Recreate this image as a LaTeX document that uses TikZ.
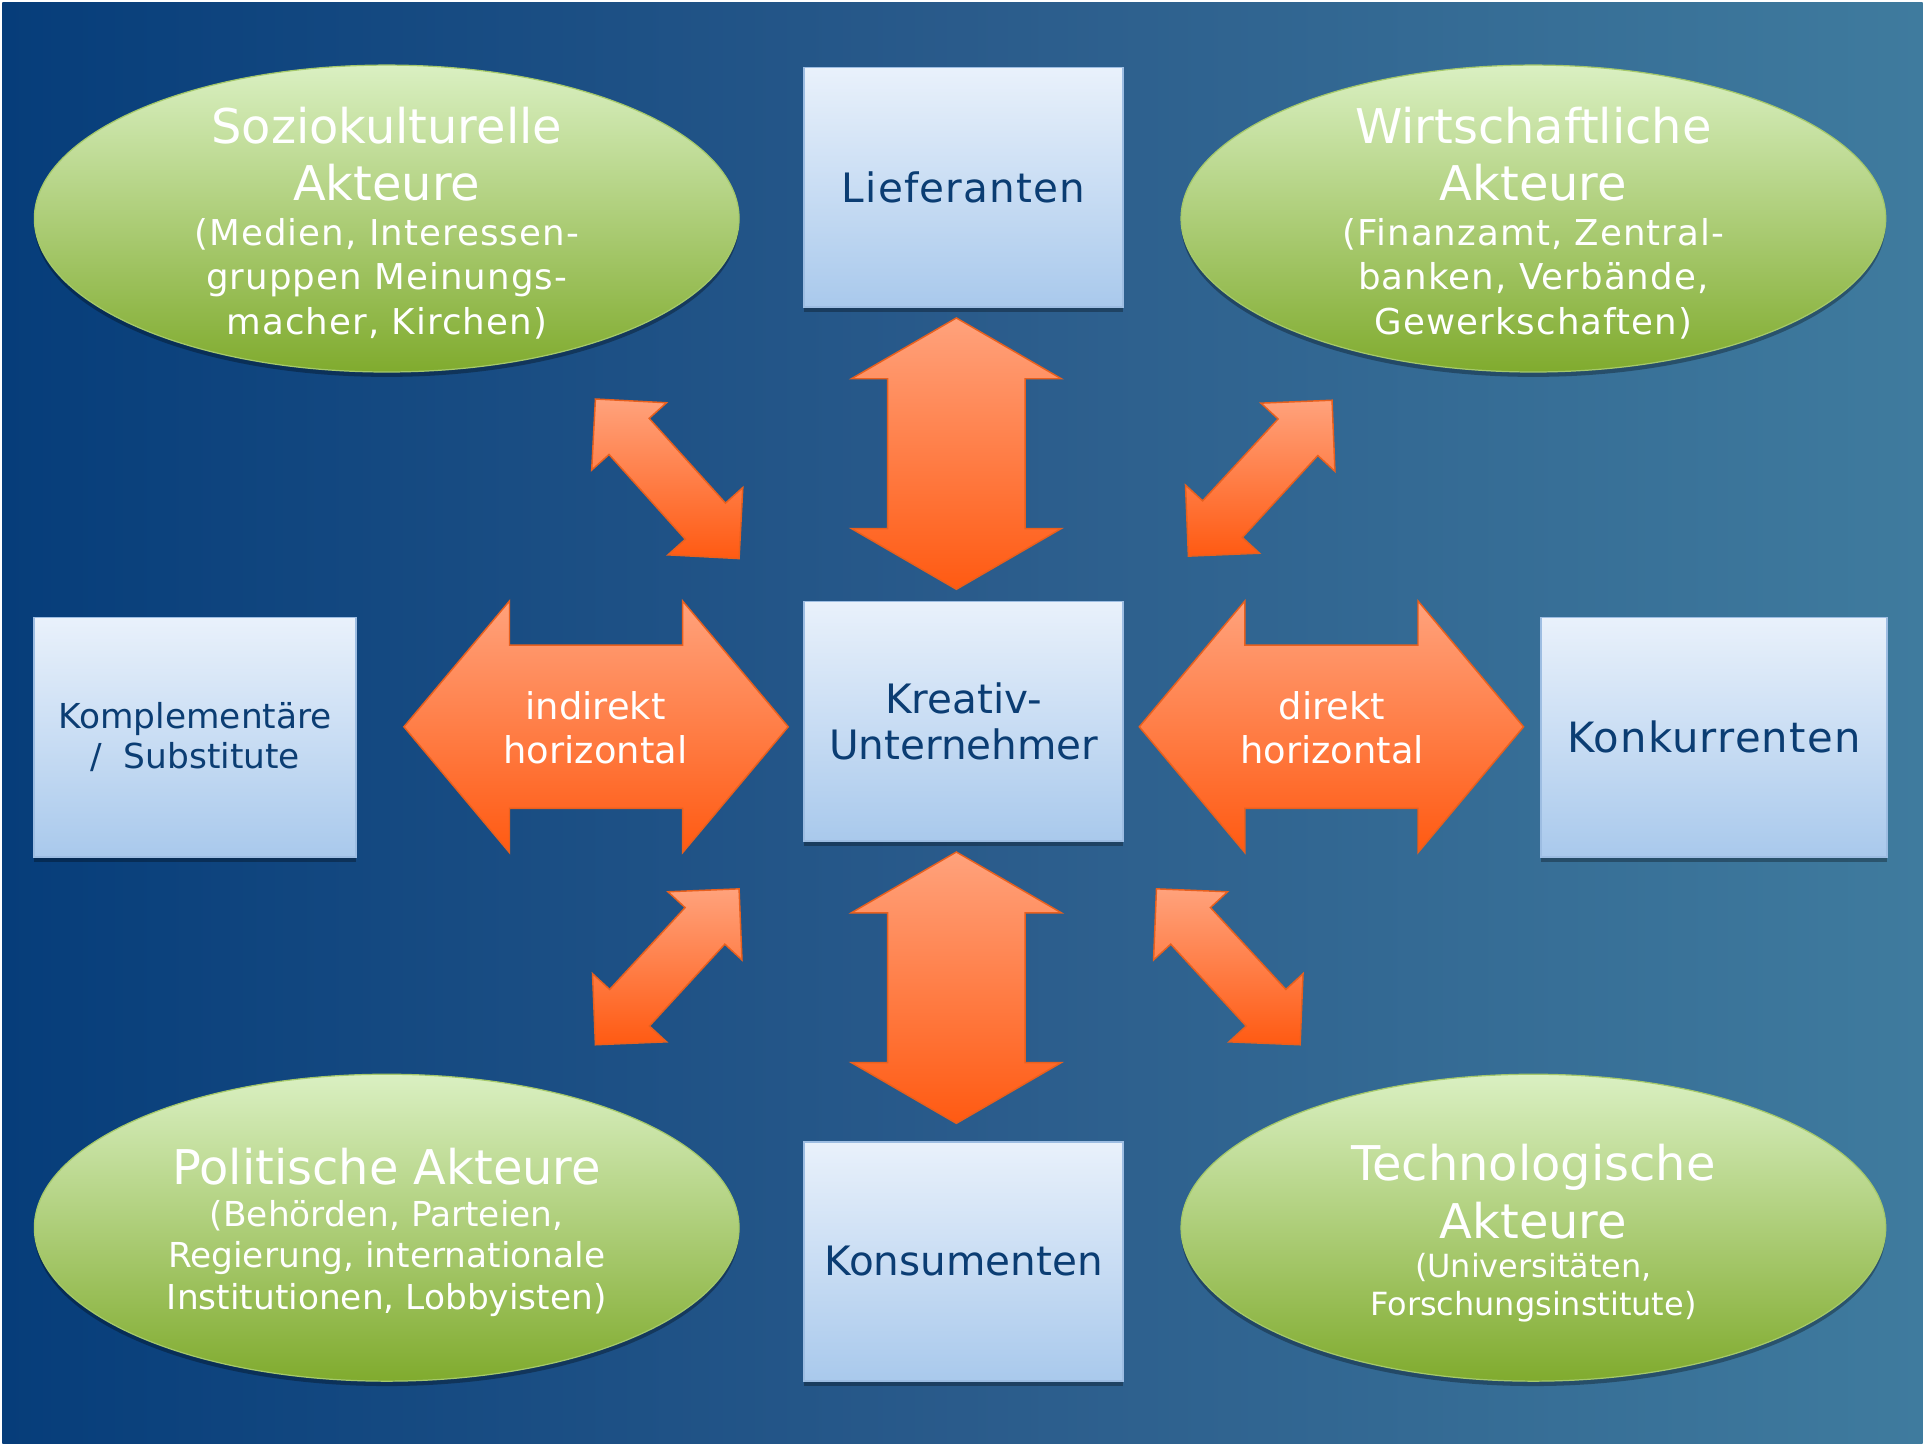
\documentclass[tikz,border=0pt]{standalone}
\usepackage{fontspec}
\setmainfont{DejaVu Sans}
\newfontfamily\spaced[LetterSpace=3]{DejaVu Sans}
\usetikzlibrary{shapes.geometric,calc,shadows}
\definecolor{bgL}{HTML}{063D7A}
\definecolor{bgM}{HTML}{2A5B8B}
\definecolor{bgR}{HTML}{3F7B9E}
\definecolor{boxT}{HTML}{E9F1FB}
\definecolor{boxB}{HTML}{A9C9EC}
\definecolor{boxBd}{HTML}{9DBDE2}
\definecolor{txtBlue}{HTML}{0B3D73}
\definecolor{ellT}{HTML}{DAF0C2}
\definecolor{ellB}{HTML}{80AB2E}
\definecolor{ellBd}{HTML}{A5C96A}
\definecolor{arrT}{HTML}{FFA27C}
\definecolor{arrB}{HTML}{FF5A12}
\definecolor{arrBd}{HTML}{E8601E}
\newcommand\dblarr[6]{%
  \coordinate (#6ha) at ($(#1)!#3!(#2)$);
  \coordinate (#6hb) at ($(#2)!#3!(#1)$);
  \filldraw[arrowshape] (#1) -- ($(#6ha)!#4!90:(#1)$) -- ($(#6ha)!#5!90:(#1)$)
    -- ($(#6hb)!#5!-90:(#2)$) -- ($(#6hb)!#4!-90:(#2)$) -- (#2)
    -- ($(#6hb)!#4!90:(#2)$) -- ($(#6hb)!#5!90:(#2)$)
    -- ($(#6ha)!#5!-90:(#1)$) -- ($(#6ha)!#4!-90:(#1)$) -- cycle;
}
\begin{document}
\begin{tikzpicture}[x=1pt,y=-1pt,
  boxnode/.style={rectangle, draw=boxBd, line width=1.5pt, top color=boxT, bottom color=boxB,
    text=txtBlue, minimum width=260pt, minimum height=195pt, inner sep=0pt, align=center,
    font=\fontsize{33}{38}\selectfont,
    drop shadow={shadow xshift=0pt,shadow yshift=-4pt,opacity=0.3,fill=black}},
  ellnode/.style={ellipse, draw=ellBd, line width=1pt, top color=ellT, bottom color=ellB,
    minimum width=574pt, minimum height=250pt, inner sep=0pt,
    drop shadow={shadow xshift=0pt,shadow yshift=-4pt,opacity=0.3,fill=black}},
  ttl/.style={text=white, align=center, inner sep=0pt, font=\fontsize{39}{47}\selectfont},
  sub/.style={text=white, align=center, inner sep=0pt, font=\fontsize{29}{36}\selectfont},
  arrtext/.style={text=white, align=center, inner sep=0pt, font=\fontsize{30}{36}\selectfont},
  arrowshape/.style={draw=arrBd, line width=1.2pt, top color=arrT, bottom color=arrB, line join=miter}]
\useasboundingbox (0,0) rectangle (1568,1178);
\fill[white] (0,0) rectangle (1568,1178);
\shade[left color=bgL, right color=bgR, middle color=bgM] (2,2) rectangle (1566,1176);

% boxes
\node[boxnode, font=\fontsize{33}{38}\spaced] (lief) at (785,152.5) {Lieferanten};
\node[boxnode] (krea) at (785,587.5) {Kreativ-\\Unternehmer};
\node[boxnode] (kons) at (785,1027.5) {Konsumenten};
\node[boxnode, minimum width=262pt, font=\fontsize{28}{33}\selectfont] (komp) at (159,600.5) {Komplementäre\\/\ \ Substitute};
\node[boxnode, minimum width=282pt, font=\fontsize{34}{38}\spaced] (konk) at (1396,600.5) {Konkurrenten};

% ellipses
\node[ellnode] (soz) at (315,178) {};
\node[ellnode] (wir) at (1249,178) {};
\node[ellnode] (pol) at (315,1000) {};
\node[ellnode] (tec) at (1249,1000) {};

\node[ttl] (sozT) at (315,125.5) {Soziokulturelle\\Akteure};
\node[sub, font=\fontsize{29}{36.5}\spaced] (sozS) at (315,227) {(Medien,\ Interessen-\\gruppen Meinungs-\\macher, Kirchen)};
\node[ttl] (wirT) at (1249,125.5) {Wirtschaftliche\\Akteure};
\node[sub, font=\fontsize{29}{36.5}\spaced] (wirS) at (1249,227) {(Finanzamt, Zentral-\\banken, Verbände,\\Gewerkschaften)};
\node[ttl] (polT) at (315,950) {Politische Akteure};
\node[sub, font=\fontsize{28}{34}\selectfont] (polS) at (315,1025) {(Behörden, Parteien,\\Regierung, internationale\\Institutionen, Lobbyisten)};
\node[ttl] (tecT) at (1249,970.5) {Technologische\\Akteure};
\node[sub, font=\fontsize{26}{31}\selectfont] (tecS) at (1249,1048.5) {(Universitäten,\\Forschungsinstitute)};

% arrow tips
\coordinate (vt1) at (779,259);  \coordinate (vt2) at (779,480);
\coordinate (vb1) at (779,694);  \coordinate (vb2) at (779,915);
\coordinate (hl1) at (329,592);  \coordinate (hl2) at (642,592);
\coordinate (hr1) at (928,592);  \coordinate (hr2) at (1241,592);
\coordinate (tl1) at (485,325);  \coordinate (tl2) at (602,455);
\coordinate (tr1) at (1085,326); \coordinate (tr2) at (968,453);
\coordinate (bl1) at (602,724);  \coordinate (bl2) at (485,851);
\coordinate (br1) at (942,724);  \coordinate (br2) at (1059,851);

\dblarr{vt1}{vt2}{49.5pt}{85.5pt}{56pt}{vt}
\dblarr{vb1}{vb2}{49.5pt}{85.5pt}{56pt}{vb}
\dblarr{hl1}{hl2}{86pt}{102.5pt}{66.5pt}{hl}
\dblarr{hr1}{hr2}{86pt}{102.5pt}{66.5pt}{hr}
\dblarr{tl1}{tl2}{41pt}{41pt}{22pt}{tl}
\dblarr{tr1}{tr2}{41pt}{41pt}{22pt}{tr}
\dblarr{bl1}{bl2}{41pt}{41pt}{22pt}{bl}
\dblarr{br1}{br2}{41pt}{41pt}{22pt}{br}

\node[arrtext] (indT) at (485,593) {indirekt\\horizontal};
\node[arrtext] (dirT) at (1085,593) {direkt\\horizontal};
\end{tikzpicture}
\end{document}
